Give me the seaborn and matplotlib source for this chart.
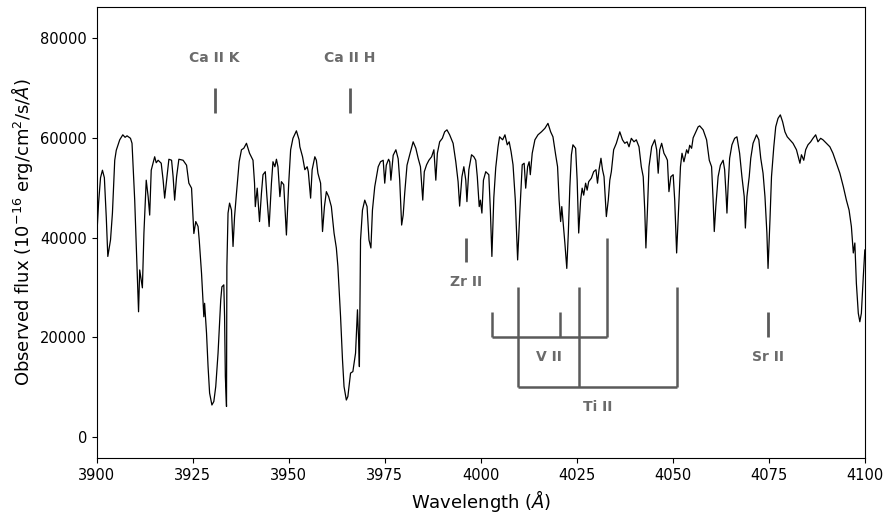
import matplotlib
matplotlib.use("Agg")
import matplotlib.pyplot as plt
import seaborn as sns

# spectrum (wavelength in A, flux in 1e-16 erg/cm2/s/A)
wave = [3900.0, 3900.5, 3901.0, 3901.5, 3902.0, 3902.5, 3902.9, 3903.6, 3904.1, 3904.7,
        3905.1, 3906.0, 3906.8, 3907.4, 3907.9, 3908.8, 3909.2, 3909.9, 3910.5, 3910.9,
        3911.2, 3911.6, 3911.9, 3912.3, 3912.9, 3913.4, 3913.8, 3914.2, 3915.1, 3915.5,
        3916.0, 3916.8, 3917.3, 3917.7, 3918.2, 3918.8, 3919.5, 3919.9, 3920.3, 3920.8,
        3921.4, 3922.5, 3923.4, 3924.0, 3924.7, 3925.3, 3925.8, 3926.4, 3926.7, 3927.3,
        3927.7, 3927.9, 3928.1, 3928.6, 3929.0, 3929.4, 3930.0, 3930.5, 3931.0, 3931.6,
        3932.3, 3932.6, 3933.1, 3933.3, 3933.5, 3933.8, 3933.9, 3934.2, 3934.6, 3935.1,
        3935.5, 3935.9, 3936.4, 3937.1, 3937.7, 3938.3, 3939.0, 3939.8, 3940.7, 3941.1,
        3941.3, 3941.8, 3942.4, 3942.9, 3943.3, 3943.9, 3944.3, 3944.9, 3945.5, 3945.9,
        3946.4, 3946.8, 3947.2, 3947.7, 3948.1, 3948.7, 3949.4, 3950.0, 3950.5, 3951.1,
        3952.0, 3952.7, 3952.9, 3953.6, 3954.2, 3954.8, 3955.1, 3955.7, 3956.1, 3956.8,
        3957.2, 3957.6, 3958.3, 3958.8, 3959.3, 3959.8, 3960.4, 3961.1, 3961.8, 3962.4,
        3962.8, 3963.5, 3964.0, 3964.4, 3965.0, 3965.4, 3966.1, 3966.7, 3967.4, 3967.9,
        3968.2, 3968.4, 3968.7, 3969.2, 3969.8, 3970.4, 3970.9, 3971.4, 3971.8, 3972.4,
        3973.3, 3973.9, 3974.6, 3975.0, 3975.4, 3976.0, 3976.3, 3976.6, 3977.2, 3977.9,
        3978.5, 3978.9, 3979.4, 3979.8, 3980.2, 3980.8, 3981.5, 3982.4, 3983.1, 3983.7,
        3984.3, 3984.9, 3985.3, 3985.9, 3986.5, 3987.2, 3987.8, 3988.3, 3988.7, 3989.3,
        3990.0, 3990.6, 3991.2, 3991.9, 3992.8, 3993.5, 3994.1, 3994.5, 3995.1, 3995.6,
        3996.1, 3996.4, 3996.9, 3997.6, 3998.2, 3998.7, 3999.1, 3999.6, 3999.9, 4000.3,
        4000.7, 4001.3, 4002.1, 4002.5, 4002.9, 4003.4, 4003.9, 4004.5, 4004.9, 4005.7,
        4006.3, 4006.9, 4007.4, 4007.9, 4008.4, 4009.0, 4009.6, 4010.2, 4010.8, 4011.3,
        4011.7, 4012.2, 4012.6, 4012.9, 4013.4, 4014.1, 4014.9, 4015.8, 4016.7, 4017.5,
        4018.2, 4018.8, 4019.5, 4020.0, 4020.4, 4020.8, 4021.1, 4021.4, 4021.9, 4022.4,
        4022.8, 4023.2, 4023.6, 4024.0, 4024.7, 4025.1, 4025.5, 4026.0, 4026.4, 4026.8,
        4027.3, 4027.7, 4028.1, 4028.8, 4029.4, 4030.0, 4030.4, 4030.8, 4031.3, 4031.7,
        4032.1, 4032.7, 4033.2, 4033.6, 4034.0, 4034.6, 4035.3, 4036.2, 4036.9, 4037.5,
        4038.1, 4038.6, 4039.2, 4039.9, 4040.5, 4041.2, 4041.8, 4042.3, 4042.7, 4043.0,
        4043.4, 4043.8, 4044.5, 4045.3, 4045.8, 4046.2, 4046.6, 4047.1, 4047.7, 4048.2,
        4048.6, 4049.0, 4049.5, 4050.1, 4050.5, 4051.0, 4051.5, 4052.0, 4052.4, 4052.9,
        4053.6, 4054.0, 4054.4, 4054.9, 4055.3, 4056.0, 4056.6, 4057.0, 4057.9, 4058.8,
        4059.5, 4060.1, 4060.5, 4060.8, 4061.2, 4061.8, 4062.4, 4063.1, 4063.5, 4063.9,
        4064.1, 4064.4, 4064.8, 4065.4, 4066.1, 4066.7, 4067.4, 4068.0, 4068.6, 4068.9,
        4069.3, 4069.9, 4070.3, 4070.9, 4071.8, 4072.4, 4072.9, 4073.5, 4074.0, 4074.5,
        4074.8, 4075.3, 4075.7, 4076.3, 4076.8, 4077.4, 4078.0, 4078.6, 4079.2, 4079.8,
        4080.5, 4081.3, 4082.2, 4083.1, 4083.5, 4084.1, 4084.6, 4085.2, 4085.9, 4086.5,
        4087.2, 4087.8, 4088.5, 4089.1, 4090.0, 4090.9, 4091.7, 4092.6, 4093.5, 4094.4,
        4095.2, 4095.9, 4096.5, 4097.0, 4097.4, 4097.8, 4098.3, 4098.7, 4099.1, 4099.6,
        4100.0]

flux = [40000, 47000, 52000, 53500, 52000, 44000, 36200, 39500, 44900, 55500,
        57500, 59600, 60600, 60100, 60400, 59900, 58900, 47500, 34200, 25100,
        33500, 31500, 29900, 40900, 51500, 48200, 44500, 53500, 56200, 55000,
        55500, 54900, 51500, 47900, 51500, 55700, 55500, 52200, 47500, 52200,
        55700, 55500, 54500, 50900, 49900, 40800, 43200, 42200, 39500, 32800,
        26800, 24100, 26800, 20800, 14100, 8800, 6400, 7100, 10100, 16800,
        27500, 30100, 30500, 24100, 12100, 6100, 34200, 44900, 46900, 45500,
        38200, 44200, 48900, 55200, 57600, 57900, 58900, 56900, 55500, 50900,
        46200, 49900, 43200, 48900, 52600, 53200, 48500, 42200, 50900, 55200,
        54200, 55700, 54200, 48200, 51200, 50600, 40500, 50900, 57600, 59900,
        61400, 59600, 58200, 56200, 53600, 54200, 53200, 47900, 53600, 56200,
        55500, 52900, 50900, 41200, 46200, 49200, 48200, 46200, 40900, 37900,
        34200, 24100, 15500, 10100, 7400, 8100, 12800, 13100, 16800, 25500,
        19500, 14100, 39500, 45500, 47500, 46200, 39500, 37900, 45500, 50200,
        54200, 55200, 55500, 50900, 54500, 55700, 55200, 51500, 56500, 57600,
        55800, 51500, 42500, 44500, 48900, 54500, 56600, 59200, 57900, 55900,
        54200, 47500, 53200, 54600, 55500, 56200, 57600, 51500, 56900, 59200,
        59900, 61200, 61600, 60600, 58900, 55200, 51200, 46300, 52200, 54200,
        51500, 47200, 53600, 56600, 56200, 55500, 52200, 46200, 47500, 44900,
        51500, 53200, 52600, 45500, 36200, 48000, 54000, 58200, 60200, 59600,
        60600, 58600, 59200, 57200, 54600, 47500, 35500, 45500, 54600, 54900,
        49900, 54200, 55200, 52600, 56900, 59600, 60600, 61200, 61900, 62900,
        61200, 60200, 56600, 54200, 47500, 43200, 46200, 43500, 38900, 33800,
        40900, 50200, 56600, 58600, 57900, 51500, 40900, 47500, 49900, 48500,
        50900, 49500, 51200, 51900, 53200, 53600, 50900, 53600, 55900, 53600,
        52200, 44200, 47500, 51500, 53200, 57600, 58900, 61200, 59600, 58900,
        59200, 58200, 59900, 59200, 59600, 58200, 54200, 52200, 45500, 37900,
        45500, 54200, 58200, 59600, 57600, 52900, 57600, 58900, 56900, 56200,
        55500, 49200, 52200, 52600, 47500, 36900, 45500, 54200, 56900, 55200,
        57600, 56900, 58500, 57900, 60000, 61200, 62200, 62400, 61600, 59600,
        55500, 54200, 47500, 41200, 46200, 52200, 54500, 55500, 53600, 48200,
        44900, 50200, 55900, 58600, 59900, 60200, 56900, 52200, 48200, 41900,
        48200, 52200, 55900, 58900, 60600, 59600, 55900, 52900, 48200, 40900,
        33800, 43500, 52200, 58200, 62200, 63900, 64600, 63200, 61200, 60200,
        59600, 58900, 57600, 54900, 56600, 55500, 57600, 58600, 59200, 59900,
        60600, 59200, 59900, 59600, 58900, 58200, 56900, 54900, 52900, 50200,
        47500, 45500, 42200, 36900, 38900, 30800, 24800, 23100, 24800, 32100,
        37500]

# single line markers: label, wavelength, line bottom, line top, text y
single_labels = ["Ca II K", "Ca II H", "Zr II", "Sr II"]
single_waves = [3930.7, 3966.0, 3996.1, 4074.7]
single_lo = [65000, 65000, 35000, 20000]
single_hi = [70000, 70000, 40000, 25000]
single_text_y = [76000, 76000, 31000, 16000]

# multiplets joined by a bracket
v2_waves = [4002.8, 4020.6, 4032.9]
v2_tops = [25000, 25000, 40000]
v2_base = 20000
ti2_waves = [4009.6, 4025.6, 4051.2]
ti2_tops = [30000, 30000, 30000]
ti2_base = 10000

mark_col = "#5a5a5a"
text_col = "#6b6b6b"

fig, ax = plt.subplots(figsize=(8.87, 5.15), dpi=100)
fig.subplots_adjust(left=0.109, right=0.975, top=0.986, bottom=0.111)

sns.lineplot(x=wave, y=flux, color="k", lw=0.9, estimator=None, ax=ax)

for lab, w, lo, hi, ty in zip(single_labels, single_waves, single_lo, single_hi, single_text_y):
    ax.vlines(w, lo, hi, color=mark_col, lw=2)
    ax.text(w, ty, lab, ha="center", va="center", color=text_col,
            fontsize=10, fontweight="bold")

ax.vlines(v2_waves, v2_base, v2_tops, color=mark_col, lw=1.8)
ax.hlines(v2_base, min(v2_waves), max(v2_waves), color=mark_col, lw=1.8)
ax.text((min(v2_waves) + max(v2_waves)) / 2, v2_base - 4000, "V II", ha="center",
        va="center", color=text_col, fontsize=10, fontweight="bold")

ax.vlines(ti2_waves, ti2_base, ti2_tops, color=mark_col, lw=1.8)
ax.hlines(ti2_base, min(ti2_waves), max(ti2_waves), color=mark_col, lw=1.8)
ax.text((min(ti2_waves) + max(ti2_waves)) / 2, ti2_base - 4000, "Ti II", ha="center",
        va="center", color=text_col, fontsize=10, fontweight="bold")

ax.set_xlim(3900, 4100)
ax.set_ylim(-4200, 86200)
ax.set_xticks([3900, 3925, 3950, 3975, 4000, 4025, 4050, 4075, 4100])
ax.set_yticks([0, 20000, 40000, 60000, 80000])
ax.tick_params(labelsize=10.5)
ax.set_xlabel(r"Wavelength ($\AA$)", fontsize=13)
ax.set_ylabel(r"Observed flux ($10^{-16}$ erg/cm$^2$/s/$\AA$)", fontsize=13)

fig.savefig("out.png", dpi=100)
